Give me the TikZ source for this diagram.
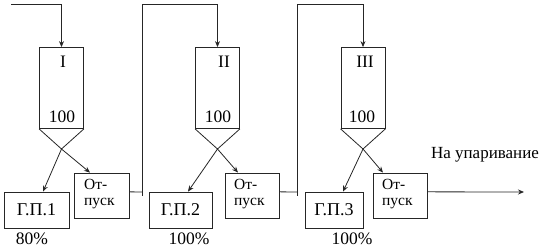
\documentclass[tikz,border=0pt]{standalone}
\usepackage{fontspec}
\setmainfont{Liberation Serif}
\usetikzlibrary{arrows.meta,calc}
\begin{document}
\begin{tikzpicture}[x=1pt,y=-1pt,
  ln/.style={line width=0.8pt,draw=black!85},
  arr/.style={ln,-{Stealth[length=6pt,width=5pt]}},
  tank/.style={ln,minimum width=44pt,minimum height=81pt,inner sep=0pt},
  gpbox/.style={ln,minimum height=36pt,inner sep=0pt,font=\fontsize{18}{20}\selectfont},
  otbox/.style={ln,minimum width=54pt,minimum height=45pt,inner sep=0pt},
  lbl/.style={font=\fontsize{17.5}{19}\selectfont,inner sep=0pt},
  ottext/.style={font=\fontsize{15.5}{16}\selectfont,align=left,inner sep=0pt,anchor=north west}
]
\useasboundingbox (0,0) rectangle (542,249);

% tanks
\node[tank] (t1) at (61.5,88) {};
\node[tank] (t2) at (217.5,88) {};
\node[tank] (t3) at (363,88) {};
\node[lbl] (t1n) at (63,62) {I};
\node[lbl] (t2n) at (224,62) {II};
\node[lbl] (t3n) at (365,62) {III};
\node[lbl] (t1v) at (62,117) {100};
\node[lbl] (t2v) at (218,117) {100};
\node[lbl] (t3v) at (362,117) {100};

% apexes
\coordinate (a1) at (61.5,149);
\coordinate (a2) at (217.5,149);
\coordinate (a3) at (363,149);
\draw[ln] (t1.south west) -- (a1) -- (t1.south east);
\draw[ln] (t2.south west) -- (a2) -- (t2.south east);
\draw[ln] (t3.south west) -- (a3) -- (t3.south east);

% boxes
\node[gpbox,minimum width=65pt] (gp1) at (36.5,210) {Г.П.1};
\node[gpbox,minimum width=63pt] (gp2) at (180.5,210) {Г.П.2};
\node[gpbox,minimum width=58pt] (gp3) at (334,210) {Г.П.3};
\node[otbox,minimum width=55pt] (ot1) at (101.5,195.5) {};
\node[otbox] (ot2) at (252,195.5) {};
\node[otbox] (ot3) at (400,195.5) {};
\node[ottext] (ot1t) at (84,179.5) {От-\\пуск};
\node[ottext] (ot2t) at (234,179.5) {От-\\пуск};
\node[ottext] (ot3t) at (382,179.5) {От-\\пуск};

% percentages
\node[lbl] (p1) at (32,239) {80\%};
\node[lbl] (p2) at (189,239) {100\%};
\node[lbl] (p3) at (352,239) {100\%};

% arrows from apex
\draw[arr] (a1) -- (gp1.north -| 43,0);
\draw[arr] (a1) -- (ot1.north -| 90,0);
\draw[arr] (a2) -- (gp2.north -| 188,0);
\draw[arr] (a2) -- (ot2.north -| 238,0);
\draw[arr] (a3) -- (gp3.north -| 343,0);
\draw[arr] (a3) -- (ot3.north -| 383,0);

% feed lines
\coordinate (in0) at (11,4.5);
\draw[arr] (in0) -- (t1.north |- in0) -- (t1.north);
\coordinate (j1) at (142,195.5);
\coordinate (j2) at (297,195.5);
\draw[ln] ($(ot1.north east)!0.42!(ot1.south east)$) -- (j1 |- 0,192);
\draw[arr] (j1) -- (j1 |- in0) -- (t2.north |- in0) -- (t2.north);
\draw[ln] ($(ot2.north east)!0.42!(ot2.south east)$) -- (j2 |- 0,192);
\draw[arr] (j2) -- (j2 |- in0) -- (t3.north |- in0) -- (t3.north);

% output
\coordinate (out) at (524,192);
\draw[arr] ($(ot3.north east)!0.42!(ot3.south east)$) -- (out);
\node[font=\fontsize{17}{18}\selectfont,inner sep=0pt] (outl) at (485,155) {На упаривание};
\end{tikzpicture}
\end{document}
